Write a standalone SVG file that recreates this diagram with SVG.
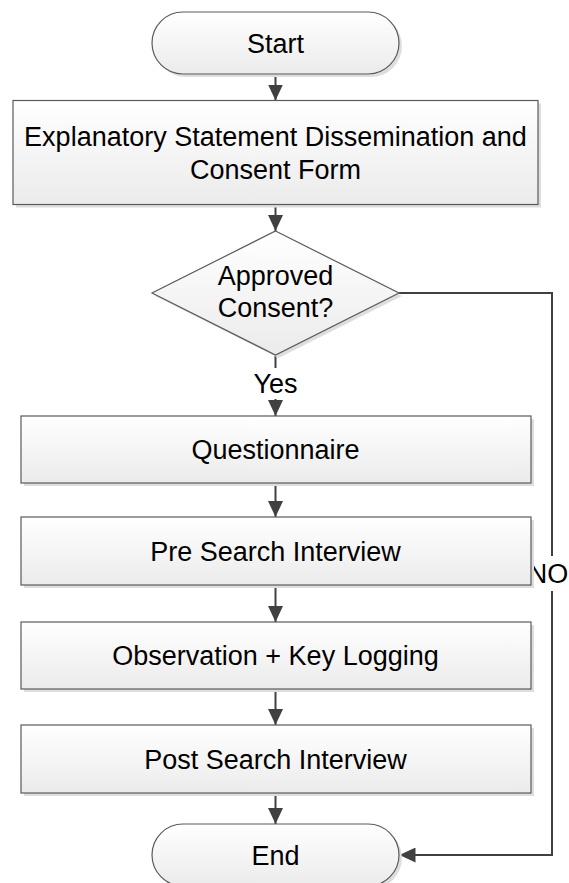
<svg xmlns="http://www.w3.org/2000/svg" width="569" height="883" viewBox="0 0 569 883">
  <style>
    .shape { fill: url(#g); stroke: #5a5a5a; stroke-width: 1.2; }
    .shadow { fill: #dedede; stroke: none; }
    .txt { font-family: "Liberation Sans", Arial, sans-serif; font-size: 27px; fill: #000; text-anchor: middle; }
    .conn { fill: none; stroke: #404040; stroke-width: 2; }
    .lblbg { fill: #ffffff; }
  </style>
  <defs>
    <linearGradient id="g" x1="0" y1="0" x2="0" y2="1">
      <stop offset="0" stop-color="#ffffff"/>
      <stop offset="1" stop-color="#ebebeb"/>
    </linearGradient>
    <marker id="ah" markerUnits="userSpaceOnUse" markerWidth="16" markerHeight="15" viewBox="0 0 16 15" refX="16" refY="7.5" orient="auto">
      <path d="M0,0 L16,7.5 L0,15 z" fill="#404040"/>
    </marker>
  </defs>
  <rect width="569" height="883" fill="#ffffff"/>

  <g id="connectors">
    <line class="conn" x1="275.5" y1="74" x2="275.5" y2="100.5" marker-end="url(#ah)"/>
    <line class="conn" x1="275.5" y1="204.5" x2="275.5" y2="231" marker-end="url(#ah)"/>
    <line class="conn" x1="275.5" y1="355" x2="275.5" y2="416" marker-end="url(#ah)"/>
    <line class="conn" x1="275.5" y1="483" x2="275.5" y2="517" marker-end="url(#ah)"/>
    <line class="conn" x1="275.5" y1="585" x2="275.5" y2="622" marker-end="url(#ah)"/>
    <line class="conn" x1="275.5" y1="689" x2="275.5" y2="725" marker-end="url(#ah)"/>
    <line class="conn" x1="275.5" y1="793" x2="275.5" y2="824" marker-end="url(#ah)"/>
    <path class="conn" d="M399,293 L552,293 L552,855 L399.5,855" marker-end="url(#ah)"/>
    <g id="label-yes">
      <rect class="lblbg" x="250" y="368" width="52" height="31"/>
      <text class="txt" x="275.5" y="393">Yes</text>
    </g>
    <g id="label-no">
      <rect class="lblbg" x="529" y="556" width="40" height="35"/>
      <text class="txt" x="548" y="583">NO</text>
    </g>
  </g>

  <g id="start">
    <rect class="shadow" x="155" y="15" width="247" height="62" rx="31"/>
    <rect class="shape" x="152" y="12" width="247" height="62" rx="31"/>
    <text class="txt" x="275.5" y="52.5">Start</text>
  </g>

  <g id="explanatory">
    <rect class="shadow" x="16" y="103.5" width="525" height="104"/>
    <rect class="shape" x="13" y="100.5" width="525" height="104"/>
    <text class="txt" x="275.5" y="146">Explanatory Statement Dissemination and</text>
    <text class="txt" x="275.5" y="178.5">Consent Form</text>
  </g>

  <g id="decision">
    <polygon class="shadow" points="278.5,234 402,296 278.5,358 155,296"/>
    <polygon class="shape" points="275.5,231 399,293 275.5,355 152,293"/>
    <text class="txt" x="275.5" y="285">Approved</text>
    <text class="txt" x="275.5" y="317">Consent?</text>
  </g>

  <g id="questionnaire">
    <rect class="shadow" x="24" y="419" width="510" height="67"/>
    <rect class="shape" x="21" y="416" width="510" height="67"/>
    <text class="txt" x="275.5" y="459">Questionnaire</text>
  </g>

  <g id="pre-search">
    <rect class="shadow" x="24" y="520" width="510" height="68"/>
    <rect class="shape" x="21" y="517" width="510" height="68"/>
    <text class="txt" x="275.5" y="560.5">Pre Search Interview</text>
  </g>

  <g id="observation">
    <rect class="shadow" x="24" y="625" width="510" height="67"/>
    <rect class="shape" x="21" y="622" width="510" height="67"/>
    <text class="txt" x="275.5" y="665">Observation + Key Logging</text>
  </g>

  <g id="post-search">
    <rect class="shadow" x="24" y="728" width="510" height="68"/>
    <rect class="shape" x="21" y="725" width="510" height="68"/>
    <text class="txt" x="275.5" y="768.5">Post Search Interview</text>
  </g>

  <g id="end">
    <rect class="shadow" x="155" y="827" width="247" height="62" rx="31"/>
    <rect class="shape" x="152" y="824" width="247" height="62" rx="31"/>
    <text class="txt" x="275.5" y="864.5">End</text>
  </g>
</svg>
